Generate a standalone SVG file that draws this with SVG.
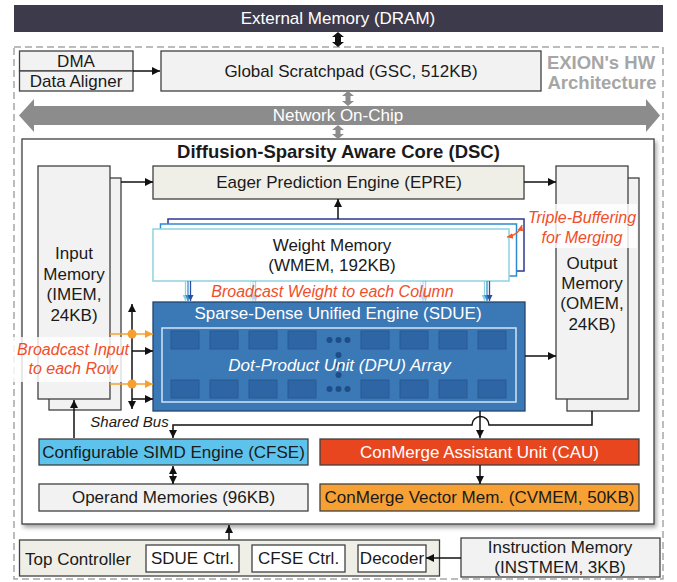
<svg xmlns="http://www.w3.org/2000/svg" width="677" height="582" viewBox="0 0 677 582">
  <defs>
    <style>
      text { font-family: "Liberation Sans", Arial, sans-serif; font-size: 17px; fill: #1a1a1a; }
      .c { text-anchor: middle; }
      .w { fill: #ffffff; }
      .b { font-weight: bold; font-size: 18.5px; }
      .it { font-style: italic; }
      .note { font-style: italic; font-size: 16px; fill: #f04e2a; text-anchor: middle; }
      .box { fill: #f2f2f2; stroke: #404040; stroke-width: 1.3; }
      .beige { fill: #efefe8; stroke: #404040; stroke-width: 1.3; }
      .wbox { fill: #ffffff; stroke: #404040; stroke-width: 1.3; }
      .ln { fill: none; stroke: #111; stroke-width: 1.5; }
      .oln { fill: none; stroke: #f7a030; stroke-width: 1.5; }
      .cell { fill: #2d65a5; stroke: #2a5a94; stroke-width: 1; }
      .dot { fill: #1f4d86; }
      .haze { fill: #ffffff; opacity: 0.82; }
    </style>
    <marker id="ah" viewBox="0 0 10 10" refX="10" refY="5" markerWidth="10" markerHeight="8" markerUnits="userSpaceOnUse" orient="auto-start-reverse">
      <path d="M0,0 L10,5 L0,10 z" fill="#111"/>
    </marker>
    <marker id="ahO" viewBox="0 0 10 10" refX="10" refY="5" markerWidth="10" markerHeight="8" markerUnits="userSpaceOnUse" orient="auto-start-reverse">
      <path d="M0,0 L10,5 L0,10 z" fill="#f7a030"/>
    </marker>
    <marker id="ahR" viewBox="0 0 10 10" refX="10" refY="5" markerWidth="6" markerHeight="6" markerUnits="userSpaceOnUse" orient="auto-start-reverse">
      <path d="M0,0 L10,5 L0,10 z" fill="#f05a28"/>
    </marker>
    <marker id="ahC" viewBox="0 0 10 10" refX="10" refY="5" markerWidth="7" markerHeight="6" markerUnits="userSpaceOnUse" orient="auto">
      <path d="M0,0 L10,5 L0,10 z" fill="#8fd3df"/>
    </marker>
    <marker id="ahB" viewBox="0 0 10 10" refX="10" refY="5" markerWidth="7" markerHeight="6" markerUnits="userSpaceOnUse" orient="auto">
      <path d="M0,0 L10,5 L0,10 z" fill="#3a8fd0"/>
    </marker>
    <marker id="ahN" viewBox="0 0 10 10" refX="10" refY="5" markerWidth="7" markerHeight="6" markerUnits="userSpaceOnUse" orient="auto">
      <path d="M0,0 L10,5 L0,10 z" fill="#2b4fa0"/>
    </marker>
    <filter id="shadow" x="-3%" y="-3%" width="108%" height="108%">
      <feDropShadow dx="2" dy="3" stdDeviation="2" flood-color="#000" flood-opacity="0.35"/>
    </filter>
  </defs>

  <!-- off-chip memory -->
  <g id="dram">
    <rect x="14" y="5" width="649" height="27" fill="#3d3a4b"/>
    <text class="c w" x="338" y="24">External Memory (DRAM)</text>
  </g>

  <!-- chip boundary -->
  <g id="chip">
    <rect x="14" y="47" width="649" height="532" fill="none" stroke="#a6a6a6" stroke-width="1.5" stroke-dasharray="7,4"/>
    <text class="b c" x="601" y="69" style="fill:#a6a6a6">EXION's HW</text>
    <text class="b c" x="602" y="89" style="fill:#a6a6a6">Architecture</text>
  </g>

  <g id="dma">
    <rect class="box" x="19.5" y="51" width="113.5" height="20"/>
    <rect class="box" x="19.5" y="71" width="113.5" height="20"/>
    <text class="c" x="76" y="67">DMA</text>
    <text class="c" x="76" y="87">Data Aligner</text>
  </g>

  <g id="gsc">
    <rect class="box" x="161" y="51" width="380" height="40"/>
    <text class="c" x="351" y="77">Global Scratchpad (GSC, 512KB)</text>
  </g>

  <g id="noc">
    <polygon points="19,115.5 34,99 34,106 646,106 646,99 660,115.5 646,132 646,125 34,125 34,132" fill="#8c8c8c"/>
    <text class="c w" x="338" y="121">Network On-Chip</text>
  </g>

  <!-- diffusion-sparsity aware core -->
  <g id="dsc">
    <rect x="22" y="139" width="632" height="385" fill="#ffffff" stroke="#404040" stroke-width="1.3" filter="url(#shadow)"/>
    <text class="b c" x="338.5" y="158">Diffusion-Sparsity Aware Core (DSC)</text>
  </g>

  <g id="imem">
    <rect class="box" x="49" y="178" width="72" height="232"/>
    <rect class="box" x="38" y="166" width="72" height="233"/>
    <text class="c" x="74" y="259">Input</text>
    <text class="c" x="74" y="280">Memory</text>
    <text class="c" x="74" y="300">(IMEM,</text>
    <text class="c" x="74" y="321">24KB)</text>
  </g>

  <g id="omem">
    <rect class="box" x="567" y="178" width="72" height="233"/>
    <rect class="box" x="556" y="166" width="72" height="233"/>
    <text class="c" x="592" y="269">Output</text>
    <text class="c" x="592" y="289">Memory</text>
    <text class="c" x="592" y="309">(OMEM,</text>
    <text class="c" x="592" y="330">24KB)</text>
  </g>

  <g id="epre">
    <rect class="beige" x="153" y="166" width="371" height="33"/>
    <text class="c" x="339" y="188">Eager Prediction Engine (EPRE)</text>
  </g>

  <g id="wmem">
    <rect x="168" y="219" width="356" height="52" fill="#ffffff" stroke="#2b3990" stroke-width="1.5"/>
    <rect x="160.5" y="224" width="356" height="52" fill="#ffffff" stroke="#2e8bcf" stroke-width="1.5"/>
    <rect x="153" y="229" width="356" height="52" fill="#ffffff" stroke="#8fd3df" stroke-width="1.5"/>
    <text class="c" x="332" y="251">Weight Memory</text>
    <text class="c" x="332" y="271">(WMEM, 192KB)</text>
  </g>

  <g id="sdue">
    <rect x="153" y="302" width="372" height="109" fill="#3b78b6" stroke="#23456c" stroke-width="1.3"/>
    <text class="c w" x="338" y="319">Sparse-Dense Unified Engine (SDUE)</text>
    <rect x="162" y="328" width="354" height="74" fill="none" stroke="#d3e4f3" stroke-width="1.5"/>
    <g id="dpu-cells">
      <rect class="cell" x="171" y="331" width="28" height="18"/>
      <rect class="cell" x="210" y="331" width="28" height="18"/>
      <rect class="cell" x="249" y="331" width="28" height="18"/>
      <rect class="cell" x="288" y="331" width="28" height="18"/>
      <rect class="cell" x="361" y="331" width="28" height="18"/>
      <rect class="cell" x="400" y="331" width="28" height="18"/>
      <rect class="cell" x="439" y="331" width="28" height="18"/>
      <rect class="cell" x="478" y="331" width="28" height="18"/>
      <rect class="cell" x="171" y="380" width="28" height="18"/>
      <rect class="cell" x="210" y="380" width="28" height="18"/>
      <rect class="cell" x="249" y="380" width="28" height="18"/>
      <rect class="cell" x="288" y="380" width="28" height="18"/>
      <rect class="cell" x="361" y="380" width="28" height="18"/>
      <rect class="cell" x="400" y="380" width="28" height="18"/>
      <rect class="cell" x="439" y="380" width="28" height="18"/>
      <rect class="cell" x="478" y="380" width="28" height="18"/>
    </g>
    <g id="dpu-dots">
      <circle class="dot" cx="329.5" cy="340" r="3"/>
      <circle class="dot" cx="338.5" cy="340" r="3"/>
      <circle class="dot" cx="347.5" cy="340" r="3"/>
      <circle class="dot" cx="329.5" cy="389" r="3"/>
      <circle class="dot" cx="338.5" cy="389" r="3"/>
      <circle class="dot" cx="347.5" cy="389" r="3"/>
      <circle class="dot" cx="338.5" cy="355" r="3"/>
      <circle class="dot" cx="338.5" cy="365" r="3"/>
      <circle class="dot" cx="338.5" cy="375" r="3"/>
    </g>
    <text class="c w it" x="339.5" y="371">Dot-Product Unit (DPU) Array</text>
  </g>

  <g id="cfse">
    <rect x="39" y="439" width="269" height="26" fill="#5ec3ec" stroke="#404040" stroke-width="1.3"/>
    <text class="c" x="173.5" y="458">Configurable SIMD Engine (CFSE)</text>
  </g>

  <g id="opmem">
    <rect class="box" x="39" y="484" width="269" height="27"/>
    <text class="c" x="173.5" y="503">Operand Memories (96KB)</text>
  </g>

  <g id="cau">
    <rect x="320" y="439" width="319" height="26" fill="#e8461e" stroke="#404040" stroke-width="1.3"/>
    <text class="c w" x="479.5" y="458">ConMerge Assistant Unit (CAU)</text>
  </g>

  <g id="cvmem">
    <rect x="320" y="484" width="319" height="27" fill="#f7a135" stroke="#404040" stroke-width="1.3"/>
    <text class="c" x="479.5" y="503">ConMerge Vector Mem. (CVMEM, 50KB)</text>
  </g>

  <g id="topctrl">
    <rect class="beige" x="19.5" y="540" width="420" height="36"/>
    <text x="25" y="565">Top Controller</text>
    <rect class="wbox" x="146" y="545" width="93" height="27"/>
    <text class="c" x="192.5" y="564">SDUE Ctrl.</text>
    <rect class="wbox" x="252" y="545" width="93" height="27"/>
    <text class="c" x="298.5" y="564">CFSE Ctrl.</text>
    <rect class="wbox" x="358" y="545" width="68" height="27"/>
    <text class="c" x="392" y="564">Decoder</text>
  </g>

  <g id="instmem">
    <rect class="box" x="461" y="538" width="199" height="39"/>
    <text class="c" x="560" y="553">Instruction Memory</text>
    <text class="c" x="560" y="573">(INSTMEM, 3KB)</text>
  </g>

  <!-- connectors -->
  <g id="connectors">
    <!-- DRAM <-> chip, thick black -->
    <polygon points="338,32 344,37 341,37 341,42 344,42 338,47 332,42 335,42 335,37 332,37" fill="#111"/>
    <!-- GSC <-> NoC, NoC <-> DSC -->
    <polygon points="348,91 354,96 350.5,96 350.5,101 354,101 348,106 342,101 345.5,101 345.5,96 342,96" fill="#8c8c8c"/>
    <polygon points="338,125 344,130 340.5,130 340.5,134 344,134 338,139 332,134 335.5,134 335.5,130 332,130" fill="#8c8c8c"/>

    <path class="ln" d="M133,71 H160" marker-end="url(#ah)"/>
    <path class="ln" d="M121,182 H153" marker-end="url(#ah)"/>
    <path class="ln" d="M524,182 H556" marker-end="url(#ah)"/>
    <path class="ln" d="M338,219 V199" marker-end="url(#ah)"/>
    <path class="ln" d="M525,356 H556" marker-end="url(#ah)"/>

    <!-- weight broadcast per column -->
    <g id="wbcast">
      <g>
        <path d="M185.5,281 V301" stroke="#8fd3df" stroke-width="1.3" marker-end="url(#ahC)"/>
        <path d="M188,281 V301" stroke="#3a8fd0" stroke-width="1.3" marker-end="url(#ahB)"/>
        <path d="M190.5,281 V301" stroke="#2b4fa0" stroke-width="1.3" marker-end="url(#ahN)"/>
      </g>
      <g opacity="0.3">
        <path d="M250.5,281 V301" stroke="#8fd3df" stroke-width="1.3" marker-end="url(#ahC)"/>
        <path d="M253,281 V301" stroke="#3a8fd0" stroke-width="1.3" marker-end="url(#ahB)"/>
        <path d="M255.5,281 V301" stroke="#2b4fa0" stroke-width="1.3" marker-end="url(#ahN)"/>
      </g>
      <g opacity="0.3">
        <path d="M420.5,281 V301" stroke="#8fd3df" stroke-width="1.3" marker-end="url(#ahC)"/>
        <path d="M423,281 V301" stroke="#3a8fd0" stroke-width="1.3" marker-end="url(#ahB)"/>
        <path d="M425.5,281 V301" stroke="#2b4fa0" stroke-width="1.3" marker-end="url(#ahN)"/>
      </g>
      <g>
        <path d="M484.5,281 V301" stroke="#8fd3df" stroke-width="1.3" marker-end="url(#ahC)"/>
        <path d="M487,281 V301" stroke="#3a8fd0" stroke-width="1.3" marker-end="url(#ahB)"/>
        <path d="M489.5,281 V301" stroke="#2b4fa0" stroke-width="1.3" marker-end="url(#ahN)"/>
      </g>
    </g>

    <!-- triple buffering swap -->
    <path d="M507,237 Q519,235 522,225" fill="none" stroke="#f05a28" stroke-width="1.3" marker-start="url(#ahR)" marker-end="url(#ahR)"/>

    <!-- input broadcast bus -->
    <path class="ln" d="M132,304 V409" marker-start="url(#ah)" marker-end="url(#ah)"/>
    <path class="ln" d="M132,351 H153" marker-end="url(#ah)"/>
    <path class="ln" d="M132,399 H153" marker-end="url(#ah)"/>
    <path class="oln" d="M110,334 H153" marker-end="url(#ahO)"/>
    <path class="oln" d="M110,384 H153" marker-end="url(#ahO)"/>
    <circle cx="132" cy="334" r="4.5" fill="#f7a030"/>
    <circle cx="132" cy="384" r="4.5" fill="#f7a030"/>

    <!-- shared bus -->
    <path class="ln" d="M592,411 V425 H489 A8.5,8.5 0 0 0 472,425 H173 V438" marker-end="url(#ah)"/>
    <path class="ln" d="M480,411 V438" marker-end="url(#ah)"/>
    <path class="ln" d="M74,438 V400" marker-end="url(#ah)"/>

    <path class="ln" d="M173,466 V484" marker-start="url(#ah)" marker-end="url(#ah)"/>
    <path class="ln" d="M480,465 V484" marker-end="url(#ah)"/>
    <path class="ln" d="M229,540 V525" marker-end="url(#ah)"/>
    <path class="ln" d="M461,558 H426" marker-end="url(#ah)"/>
  </g>

  <!-- annotations -->
  <g id="notes">
    <rect class="haze" x="526" y="204" width="111" height="44"/>
    <text class="note" x="582" y="223">Triple-Buffering</text>
    <text class="note" x="582" y="243">for Merging</text>
    <text class="note" x="332.5" y="297">Broadcast Weight to each Column</text>
    <rect class="haze" x="10" y="337" width="118" height="45"/>
    <text class="note" x="73" y="355">Broadcast Input</text>
    <text class="note" x="73" y="374">to each Row</text>
    <text class="it" x="129.5" y="427" text-anchor="middle" style="font-size:15px">Shared Bus</text>
  </g>
</svg>
